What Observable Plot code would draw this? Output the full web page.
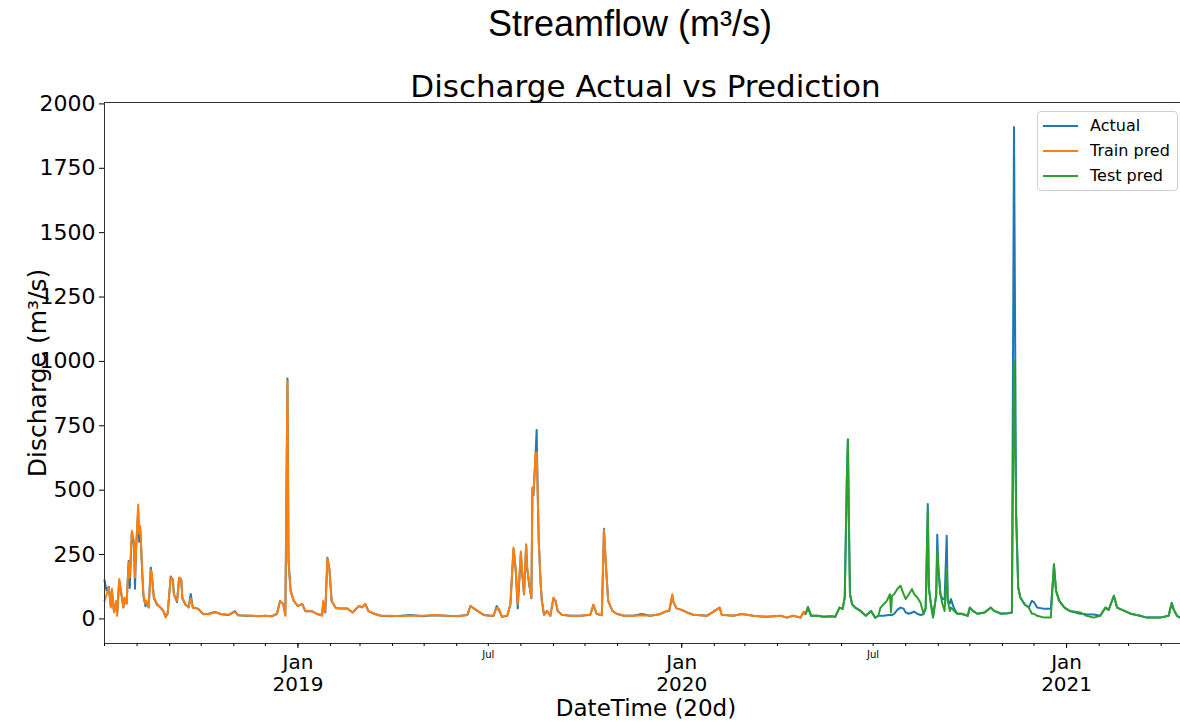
<!DOCTYPE html>
<html><head><meta charset="utf-8">
<script src="https://cdn.jsdelivr.net/npm/d3@7"></script>
<script src="https://cdn.jsdelivr.net/npm/@observablehq/plot@0.6"></script>
<style>
html,body{margin:0;padding:0;background:#fff;overflow:hidden;width:1180px;height:722px;}
#wrap{position:relative;width:1180px;height:722px;overflow:hidden;}
#chart{position:absolute;left:0;top:0;width:1190px;height:722px;}
#chart svg{max-width:none !important;}
.title{position:absolute;left:0;width:1260px;top:6px;text-align:center;font-family:"Liberation Sans",Arial,sans-serif;font-size:36px;line-height:36px;color:#000;white-space:nowrap;}
.sub{position:absolute;left:0;width:1291px;top:71px;text-align:center;font-family:"DejaVu Sans",sans-serif;font-size:31px;line-height:31px;color:#000;white-space:nowrap;}
.legend{position:absolute;left:1037px;top:111px;width:141px;height:80px;border:1px solid #d0d0d0;border-radius:4px;background:rgba(255,255,255,0.85);font-family:"DejaVu Sans",sans-serif;font-size:16px;color:#000;box-sizing:border-box;}
.legend .row{position:absolute;left:0;width:139px;height:20px;line-height:20px;}
.legend svg{position:absolute;left:5px;top:0;}
.legend .lb{position:absolute;left:52px;top:0;white-space:nowrap;}
</style>
</head><body>
<div id="wrap">
  <div id="chart"></div>
  <div class="title">Streamflow (m³/s)</div>
  <div class="sub">Discharge Actual vs Prediction</div>
  <div class="legend" id="legend"></div>
</div>
<script>
// ---- Training period (Actual vs Train pred) ----
const trainDates = [
 "2018-07-01","2018-07-03","2018-07-05","2018-07-07","2018-07-08","2018-07-10","2018-07-12","2018-07-13","2018-07-15","2018-07-17",
 "2018-07-19","2018-07-20","2018-07-22","2018-07-24","2018-07-25","2018-07-27","2018-07-29","2018-07-30","2018-07-31","2018-08-02",
 "2018-08-03","2018-08-04","2018-08-06","2018-08-07","2018-08-09","2018-08-10","2018-08-12","2018-08-14","2018-08-15","2018-08-17",
 "2018-08-20","2018-08-23","2018-08-26","2018-08-28","2018-08-30","2018-09-02","2018-09-04","2018-09-05","2018-09-08","2018-09-10",
 "2018-09-12","2018-09-13","2018-09-16","2018-09-19","2018-09-21","2018-09-23","2018-09-28","2018-10-03","2018-10-08","2018-10-14",
 "2018-10-20","2018-10-27","2018-11-02","2018-11-05","2018-11-12","2018-11-18","2018-11-25","2018-12-01","2018-12-07","2018-12-12",
 "2018-12-15","2018-12-18","2018-12-20","2018-12-22","2018-12-23","2018-12-25","2018-12-28","2019-01-01","2019-01-05","2019-01-08",
 "2019-01-14","2019-01-20","2019-01-24","2019-01-25","2019-01-27","2019-01-29","2019-01-31","2019-02-02","2019-02-06","2019-02-10",
 "2019-02-17","2019-02-22","2019-02-28","2019-03-03","2019-03-06","2019-03-09","2019-03-15","2019-03-21","2019-03-30","2019-04-09",
 "2019-04-18","2019-04-30","2019-05-10","2019-05-23","2019-06-02","2019-06-11","2019-06-14","2019-06-21","2019-06-27","2019-07-03",
 "2019-07-06","2019-07-09","2019-07-11","2019-07-14","2019-07-19","2019-07-22","2019-07-25","2019-07-27","2019-07-29","2019-08-01",
 "2019-08-02","2019-08-04","2019-08-06","2019-08-07","2019-08-09","2019-08-11","2019-08-12","2019-08-13","2019-08-15","2019-08-16",
 "2019-08-17","2019-08-18","2019-08-20","2019-08-21","2019-08-23","2019-08-26","2019-08-29","2019-09-01","2019-09-03","2019-09-05",
 "2019-09-09","2019-09-17","2019-09-27","2019-10-06","2019-10-09","2019-10-12","2019-10-17","2019-10-19","2019-10-21","2019-10-23",
 "2019-10-27","2019-10-31","2019-11-07","2019-11-16","2019-11-24","2019-12-02","2019-12-11","2019-12-18","2019-12-20","2019-12-23",
 "2019-12-24","2019-12-27","2020-01-01","2020-01-06","2020-01-12","2020-01-25","2020-02-06","2020-02-08","2020-02-19","2020-02-27",
 "2020-03-09","2020-03-22","2020-04-04","2020-04-10","2020-04-16","2020-04-23","2020-04-26","2020-04-27"
];
const actualTrain = [
 150,110,125,50,110,30,65,15,150,95,
 45,80,60,225,120,335,290,117,270,420,
 300,350,170,90,49,65,45,200,170,80,
 55,45,30,10,20,165,150,95,65,160,
 150,80,55,45,97,44,40,18,20,27,
 18,15,30,14,12,12,10,12,10,20,
 70,58,15,934,226,109,70,50,58,30,
 30,18,15,65,25,238,190,70,42,40,
 40,25,50,45,58,30,19,12,10,12,
 15,10,14,12,10,15,50,30,15,12,
 12,50,35,8,12,55,270,195,41,255,
 190,95,285,195,130,80,505,480,640,734,
 490,300,125,70,16,31,12,80,70,31,
 16,12,12,16,55,20,14,350,200,70,
 31,20,12,12,19,12,18,31,30,90,
 66,41,35,25,16,12,44,16,12,19,
 12,8,12,5,12,5,28,20
];
const trainPred = [
 70,95,122,44,117,25,70,12,155,102,
 44,83,58,219,161,342,303,161,265,444,
 330,362,175,97,58,70,44,190,175,83,
 58,44,31,6,19,161,155,97,70,161,
 155,83,58,44,80,44,38,19,18,26,
 19,16,27,14,13,12,11,12,10,19,
 70,58,12,925,230,109,70,50,58,30,
 30,18,12,70,30,235,187,70,42,40,
 40,25,50,45,58,30,19,12,12,10,
 12,12,15,12,11,15,50,30,15,12,
 12,44,40,8,12,57,277,200,57,262,
 195,97,290,200,135,83,511,486,645,647,
 498,303,122,70,16,31,12,83,70,31,
 16,12,12,16,55,20,14,345,200,70,
 31,20,12,12,14,12,18,31,31,96,
 66,41,35,25,16,12,44,16,12,19,
 12,8,12,5,12,5,28,20
];
// ---- Test period (Actual vs Test pred) ----
const testDates = [
 "2020-04-28","2020-04-30","2020-05-03","2020-05-09","2020-05-15","2020-05-22","2020-05-26","2020-05-30","2020-06-02","2020-06-04",
 "2020-06-06","2020-06-07","2020-06-08","2020-06-09","2020-06-11","2020-06-14","2020-06-19","2020-06-24","2020-06-29","2020-07-03",
 "2020-07-06","2020-07-08","2020-07-11","2020-07-14","2020-07-17","2020-07-18","2020-07-19","2020-07-21","2020-07-24","2020-07-27",
 "2020-07-30","2020-08-01","2020-08-04","2020-08-07","2020-08-09","2020-08-12","2020-08-15","2020-08-18","2020-08-20","2020-08-22",
 "2020-08-23","2020-08-25","2020-08-27","2020-08-30","2020-08-31","2020-09-01","2020-09-03","2020-09-05","2020-09-07","2020-09-09",
 "2020-09-10","2020-09-12","2020-09-13","2020-09-16","2020-09-19","2020-09-23","2020-09-29","2020-10-01","2020-10-04","2020-10-08",
 "2020-10-15","2020-10-21","2020-10-24","2020-10-31","2020-11-06","2020-11-10","2020-11-12","2020-11-14","2020-11-16","2020-11-18",
 "2020-11-22","2020-11-26","2020-11-29","2020-12-01","2020-12-04","2020-12-11","2020-12-17","2020-12-20","2020-12-22","2020-12-25",
 "2020-12-30","2021-01-04","2021-01-14","2021-01-20","2021-01-27","2021-02-02","2021-02-07","2021-02-10","2021-02-15","2021-02-18",
 "2021-02-25","2021-03-03","2021-03-12","2021-03-18","2021-03-31","2021-04-08","2021-04-11","2021-04-13","2021-04-16","2021-04-19",
 "2021-04-26"
];
const actualTest = [
 20,46,12,12,8,10,8,44,39,83,
 537,697,368,96,57,44,31,12,31,5,
 12,12,12,14,15,15,14,20,35,44,
 40,25,20,25,28,20,15,18,40,446,
 120,57,10,90,327,200,96,77,77,323,
 70,60,77,40,20,20,12,44,31,20,
 25,44,31,20,22,25,1910,408,122,83,
 57,44,70,65,44,39,39,205,109,70,
 44,31,20,18,17,12,44,35,90,44,
 31,20,12,5,5,12,63,35,12,5,
 8
];
const testPred = [
 20,46,12,12,8,10,8,44,39,83,
 537,697,368,96,57,44,31,12,31,5,
 12,44,57,70,96,25,90,96,116,129,
 96,77,96,116,96,83,64,20,44,420,
 122,57,5,96,265,200,96,57,31,200,
 70,31,44,31,20,20,12,44,31,20,
 25,44,31,20,22,25,1000,408,122,83,
 57,44,20,20,12,5,5,213,109,70,
 44,31,25,12,5,12,44,35,90,44,
 31,20,12,5,5,12,60,35,12,5,
 8
];
// ---- Axes ----
const xDomain = ["2018-07-01", "2021-04-26"];
const yTicks = [0, 250, 500, 750, 1000, 1250, 1500, 1750, 2000];
const yDomain = [-95.5, 2005.5];
const janTicks = ["2019-01-01", "2020-01-01", "2021-01-01"];
const janLabels = ["Jan\n2019", "Jan\n2020", "Jan\n2021"];
const julTicks = ["2019-07-01", "2020-07-01"];
const julLabels = ["Jul", "Jul"];
const seriesNames = ["Actual", "Train pred", "Test pred"];
const seriesColors = ["#1f77b4", "#ff7f0e", "#2ca02c"];

const P = s => new Date(s + "T00:00:00Z");
const actualRows = trainDates.map((d, i) => ({date: P(d), v: actualTrain[i]}))
  .concat(testDates.map((d, i) => ({date: P(d), v: actualTest[i]})));
const trainRows = trainDates.map((d, i) => ({date: P(d), v: trainPred[i]}));
const testRows = testDates.map((d, i) => ({date: P(d), v: testPred[i]}));

const janMap = new Map(janTicks.map((d, i) => [+P(d), janLabels[i]]));
const julMap = new Map(julTicks.map((d, i) => [+P(d), julLabels[i]]));
const monthTicks = d3.utcMonth.range(P(xDomain[0]), P(xDomain[1]));

const chart = Plot.plot({
  width: 1190,
  height: 722,
  marginTop: 102,
  marginBottom: 79,
  marginLeft: 104,
  marginRight: 3,
  style: {fontFamily: "DejaVu Sans, sans-serif", fontSize: "22px", color: "#000", background: "transparent", maxWidth: "none"},
  x: {type: "utc", domain: xDomain.map(P)},
  y: {domain: yDomain},
  marks: [
    Plot.line(actualRows, {x: "date", y: "v", stroke: seriesColors[0], strokeWidth: 2}),
    Plot.line(trainRows, {x: "date", y: "v", stroke: seriesColors[1], strokeWidth: 2}),
    Plot.line(testRows, {x: "date", y: "v", stroke: seriesColors[2], strokeWidth: 2}),
    Plot.frame({stroke: "#333", strokeWidth: 1}),
    Plot.axisY({ticks: yTicks, tickSize: 5, tickPadding: 4, fontSize: 22, label: null, tickFormat: d => String(d)}),
    Plot.axisX({ticks: monthTicks, tickSize: 3, tickFormat: () => null, label: null}),
    Plot.axisX({ticks: janTicks.map(P), tickSize: 5, tickPadding: 5, fontSize: 20, lineHeight: 1.1, tickFormat: d => janMap.get(+d), label: null}),
    Plot.axisX({ticks: julTicks.map(P), tickSize: 0, tickPadding: 7, fontSize: 10, tickFormat: d => julMap.get(+d), label: null}),
    Plot.text(["Discharge (m³/s)"], {frameAnchor: "left", textAnchor: "middle", lineAnchor: "middle", dx: -67, rotate: -90, fontSize: 25, text: d => d}),
    Plot.text(["DateTime (20d)"], {frameAnchor: "bottom", textAnchor: "middle", lineAnchor: "middle", dy: 65, fontSize: 23, text: d => d})
  ]
});
chart.style.maxWidth = "none";
document.getElementById("chart").appendChild(chart);

// legend
const lg = document.getElementById("legend");
seriesNames.forEach((name, i) => {
  const row = document.createElement("div");
  row.className = "row";
  row.style.top = (4 + i * 25) + "px";
  row.innerHTML = `<svg width="36" height="20"><line x1="0" x2="35" y1="10" y2="10" stroke="${seriesColors[i]}" stroke-width="2"/></svg><span class="lb">${name}</span>`;
  lg.appendChild(row);
});
</script>
</body></html>
